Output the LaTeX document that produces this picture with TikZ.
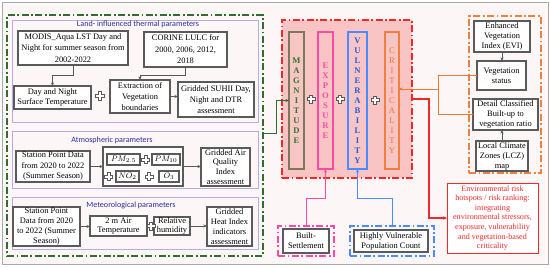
\documentclass[tikz,border=0pt]{standalone}
\usepackage{fontspec}
\setmainfont{Liberation Serif}
\newfontfamily\carlito{Carlito}
\usetikzlibrary{arrows.meta}
\definecolor{bgc}{HTML}{FCF6F6}
\definecolor{framec}{HTML}{A8A8A8}
\definecolor{panelc}{HTML}{B4AEDC}
\definecolor{titlec}{HTML}{2E2E9A}
\definecolor{boxc}{HTML}{5A5A5A}
\definecolor{greenc}{HTML}{2F6E2F}
\definecolor{redc}{HTML}{F02828}
\definecolor{redfill}{HTML}{F8C4C4}
\definecolor{magc}{HTML}{7A7A5A}
\definecolor{magt}{HTML}{2E7A2E}
\definecolor{expc}{HTML}{FF4AA5}
\definecolor{vulc}{HTML}{4A8CFF}
\definecolor{vult}{HTML}{1F5FE0}
\definecolor{crc}{HTML}{F08040}
\definecolor{orc}{HTML}{F07830}
\newcommand\bx[7]{\node[#6, minimum width={(#4-#2)*1pt}, minimum height={(#5-#3)*1pt}] (#1) at ({(#2+#4)/2},{(#3+#5)/2}) {#7};}
\tikzset{
  box/.style={draw=boxc, line width=1.2pt, fill=white, inner sep=0pt, outer sep=0pt, align=center, font=\fontsize{8.4}{10.5}\selectfont},
  panel/.style={draw=panelc, line width=0.9pt, fill=bgc, inner sep=0pt, outer sep=0pt},
  grp/.style={line width=1.4pt, inner sep=0pt, outer sep=0pt, dash pattern=on 7pt off 2.5pt on 1.8pt off 2.5pt},
  title/.style={text=titlec, font=\carlito\fontsize{8.1}{9}\selectfont, inner sep=0pt},
  conn/.style={draw=black!65, line width=0.6pt, -{Stealth[length=3.5pt,width=3pt]}},
  col/.style={line width=1.2pt, inner sep=0pt, outer sep=0pt, align=center, font=\bfseries\fontsize{8.6}{10}\selectfont},
  plussign/.pic={\draw[boxc, line width=0.7pt, fill=white] (-1.4,-4)--(1.4,-4)--(1.4,-1.4)--(4,-1.4)--(4,1.4)--(1.4,1.4)--(1.4,4)--(-1.4,4)--(-1.4,1.4)--(-4,1.4)--(-4,-1.4)--(-1.4,-1.4)--cycle;}
}
\begin{document}
\begin{tikzpicture}[x=1pt,y=-1pt]
\useasboundingbox (0,0) rectangle (550,268);
\fill[white] (0,0) rectangle (550,268);
\draw[framec, fill=bgc, line width=0.8pt] (2,2) rectangle (548,264);

% left group and panels
\bx{leftgrp}{7}{15}{263}{256}{grp, draw=greenc}{}
\bx{landp}{12}{20}{258}{122}{panel}{}
\bx{atmp}{12}{131}{258}{188}{panel}{}
\bx{metp}{12}{197}{258}{249}{panel}{}
\node[title] (landt) at (138,24) {Land- influenced thermal parameters};
\node[title] (atmt) at (112,140) {Atmospheric parameters};
\node[title] (mett) at (131,205) {Meteorological parameters};

% land
\bx{modis}{18}{31}{128}{65}{box, font=\fontsize{8.4}{11.5}\selectfont}{MODIS\_Aqua LST Day and\\Night for summer season from\\2002-2022}
\bx{corine}{144}{32}{227}{67}{box, font=\fontsize{8.4}{11.5}\selectfont}{CORINE LULC for\\2000, 2006, 2012,\\2018}
\bx{day}{14}{86}{91}{109}{box}{Day and Night\\Surface Temperature}
\bx{extr}{110}{80}{170}{113}{box, font=\fontsize{8.4}{11}\selectfont}{Extraction of\\Vegetation\\boundaries}
\bx{suhii}{178}{82}{254}{117}{box, font=\fontsize{8.4}{11}\selectfont}{Gridded SUHII Day,\\Night and DTR\\assessment}
\pic[scale=1.2] at (100,96) {plussign};
\draw[conn] (modis.south) -- ++(0,10) -| (day.north);
\draw[conn] (corine.south) -- ++(0,8) -| (extr.north);
\draw[conn] (extr.east) -- (extr.east -| suhii.west);

% atmospheric
\bx{sta}{16}{151}{90}{182}{box}{Station Point Data\\from 2020 to 2022\\(Summer Season)}
\bx{pmg}{103}{147}{183}{186}{box}{}
\bx{pm25}{107}{154}{140}{165}{box}{$PM_{2.5}$}
\bx{pm10}{152}{154}{180}{165}{box}{$PM_{10}$}
\bx{no2}{116}{171}{139}{182}{box}{$NO_2$}
\bx{o3}{159}{171}{179}{182}{box}{$O_3$}
\pic at (145.5,159.5) {plussign};
\pic at (108.5,176.5) {plussign};
\pic at (149,176.5) {plussign};
\bx{aqi}{201}{148}{250}{186}{box, font=\fontsize{8.4}{9.8}\selectfont}{Gridded Air\\Quality\\Index\\assessment}
\draw[conn] (sta.east) -- (pmg.west);
\draw[conn] (pmg.east) -- (pmg.east -| aqi.west);

% meteorological
\bx{st2}{13}{207}{80}{246}{box, font=\fontsize{8.4}{9.8}\selectfont}{Station Point\\Data from 2020\\to 2022 (Summer\\Season)}
\bx{air}{90}{216}{147}{236}{box, font=\fontsize{8.4}{9.5}\selectfont}{2 m Air\\Temperature}
\bx{rh}{154}{217}{190}{235}{box, font=\fontsize{8.4}{9.5}\selectfont}{Relative\\humidity}
\bx{hi}{207}{207}{252}{246}{box, font=\fontsize{8.4}{9.8}\selectfont}{Gridded\\Heat Index\\indicators\\assessment}
\pic at (151,226) {plussign};
\draw[conn] (st2.east) -- (st2.east -| air.west);
\draw[conn] (rh.east) -- (rh.east -| hi.west);

% central red group
\bx{redgrp}{282}{20}{412}{178}{grp, draw=redc, fill=redfill}{}
\bx{mag}{289}{32}{304}{169}{col, draw=magc, text=magt}{M\\A\\G\\N\\I\\T\\U\\D\\E}
\bx{expo}{318}{32}{333}{169}{col, draw=expc, text=expc}{E\\X\\P\\O\\S\\U\\R\\E}
\bx{vul}{348}{32}{367}{169}{col, draw=vulc, text=vult}{V\\U\\L\\N\\E\\R\\A\\B\\I\\L\\I\\T\\Y}
\bx{crit}{385}{32}{399}{169}{col, draw=crc, text=orc, font=\fontsize{8.6}{10}\selectfont}{C\\R\\I\\T\\I\\C\\A\\L\\I\\T\\Y}
\pic at (311,99) {plussign};
\pic at (340,99) {plussign};
\pic at (375,100) {plussign};

% green connector
\coordinate (g1) at (0,133);
\draw[greenc, line width=1pt, -{Stealth[length=3.5pt,width=3pt]}] (leftgrp.east |- g1) -- (276,133) |- (mag.west);

% right orange group
\bx{rgrp}{469}{16}{541}{173}{grp, draw=crc}{}
\bx{evi}{474}{21}{530}{52}{box, font=\fontsize{8.4}{10}\selectfont}{Enhanced\\Vegetation\\Index (EVI)}
\bx{veg}{477}{61}{526}{90}{box, font=\fontsize{8.4}{10}\selectfont}{Vegetation\\status}
\bx{det}{473}{99}{538}{130}{box, font=\fontsize{8.4}{10}\selectfont}{Detail Classified\\Built-up to\\vegetation ratio}
\bx{lcz}{476}{141}{528}{171}{box, font=\fontsize{8.4}{10}\selectfont}{Local Climate\\Zones (LCZ)\\map}
\draw[conn] (evi.south) -- (evi.south |- veg.north);
\draw[conn] (lcz.north) -- (lcz.north |- det.south);
\coordinate (J) at (438,89);
\draw[orc, line width=1pt] (veg.west) -| (J);
\draw[orc, line width=1pt] (det.west) -| (J);
\draw[orc, line width=1pt, -{Stealth[length=3.5pt,width=3pt]}] (J) -- (J -| crit.east);

% risk
\bx{risk}{447}{183}{538}{253}{box, draw=redc, line width=1pt, text=redc, font=\fontsize{8.1}{9.6}\selectfont}{Environmental risk\\hotspots / risk ranking:\\integrating\\environmental stressors,\\exposure, vulnerability\\and vegetation-based\\criticality}
\coordinate (r1) at (0,99);
\draw[redc, line width=1.4pt, -{Stealth[length=4pt,width=3.5pt]}] (redgrp.east |- r1) -- (429,99) |- (risk.west);

% bottom groups
\bx{bgrp}{278}{226}{334}{256}{grp, draw=expc}{}
\bx{built}{283}{229}{329}{253}{box, font=\fontsize{8.4}{10}\selectfont}{Built-\\Settlement}
\bx{hgrp}{350}{226}{434}{256}{grp, draw=vulc}{}
\bx{hv}{354}{230}{428}{252}{box, font=\fontsize{8.4}{10}\selectfont}{Highly Vulnerable\\Population Count}
\draw[expc, line width=1pt, -{Stealth[length=3.5pt,width=3pt]}] (bgrp.north) -- ++(0,-28) -| (expo.south);
\draw[vulc, line width=1pt, -{Stealth[length=3.5pt,width=3pt]}] (hgrp.north) -- ++(0,-28) -| (vul.south);
\end{tikzpicture}
\end{document}
